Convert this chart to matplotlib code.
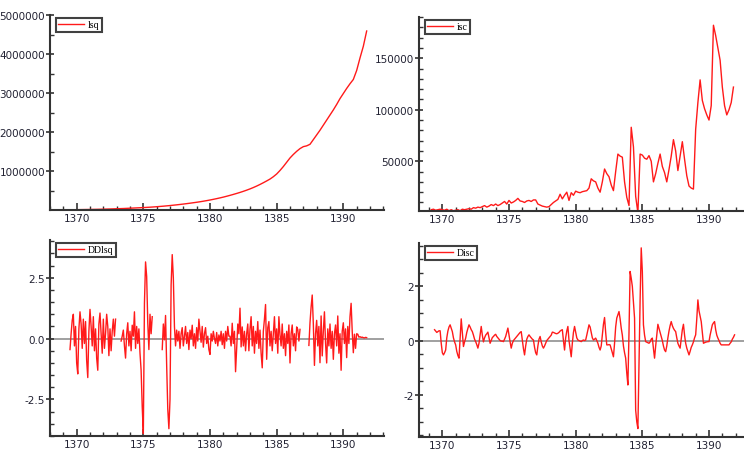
import numpy as np
import matplotlib.pyplot as plt
from matplotlib.ticker import MultipleLocator

# lsq: quarterly, starting 1369 Q1
lsq_start = 1369.0
lsq = [12000, 13000, 14000, 15000, 16000, 17500, 19000, 20500,
       22000, 23500, 25000, 27000, 29000, 31500, 34000, 37000,
       40000, 43000, 46000, 50000, 54000, 58000, 62000, 66000,
       70000, 75000, 80000, 86000, 92000, 99000, 106000, 114000,
       122000, 131000, 140000, 150000, 160000, 171000, 182000, 194000,
       206000, 219000, 233000, 248000, 264000, 281000, 299000, 318000,
       338000, 360000, 383000, 407000, 432000, 458000, 486000, 516000,
       548000, 583000, 621000, 662000, 706000, 752000, 800000, 860000,
       930000, 1020000, 1120000, 1230000, 1340000, 1430000, 1510000, 1580000,
       1630000, 1650000, 1690000, 1810000, 1930000, 2050000, 2180000, 2310000,
       2440000, 2570000, 2710000, 2860000, 2990000, 3120000, 3240000, 3350000,
       3580000, 3900000, 4200000, 4590000]

# isc: two-monthly, starting 1369 + 1/6
isc_start = 1369 + 1 / 6
isc = [3000, 3500, 2500, 3000, 3500,
       3000, 2500, 3500, 2000, 3000, 2000,
       2500, 3000, 2000, 3500, 3000, 3500,
       4000, 3500, 5000, 4500, 5500, 5000,
       6000, 7000, 5500, 6500, 8000, 7000,
       8500, 7000, 8000, 9500, 11000, 8500,
       12000, 9500, 10500, 12000, 14000, 11500,
       11000, 10000, 11500, 12000, 11000, 12500,
       12500, 8500, 7500, 6500, 6000, 5500,
       6000, 8000, 10000, 11500, 13000, 18000,
       13500, 17000, 20000, 12000, 19500, 17000,
       21000, 20000, 19500, 20500, 21000, 21500,
       24000, 33000, 31000, 30000, 24000, 20000,
       30000, 42500, 38000, 35000, 27000, 21500,
       40000, 57000, 55000, 54000, 30000, 15000,
       7000, 83000, 64000, 16000, 0, 57000,
       56000, 53000, 52000, 55500, 50000, 30000,
       38000, 48000, 57000, 45000, 39000, 30000,
       42000, 55000, 71000, 60000, 41000, 55000,
       69000, 52000, 36000, 26000, 24000, 23000,
       81000, 107000, 129000, 109000, 101000, 95000,
       90000, 104000, 182000, 172000, 160000, 148000,
       122000, 104000, 95000, 100000, 107000, 122000]

# DDlsq: monthly, four pieces separated by missing values
ddlsq_starts = [1369 + 6 / 12, 1369 + 52 / 12, 1369 + 89 / 12, 1369 + 221 / 12]
ddlsq_1 = [-0.45, 0.2, 0.75, 1.0, -0.3, 0.5, -1.0, -1.45, 0.4, 1.1, 0.6, -0.4,
           0.8, -0.2, 0.7, -0.9, -1.6, 0.3, 1.2, 0.5, -0.3, 0.9, -0.5, 0.4,
           -0.8, -1.3, 0.6, 1.05, 0.2, -0.6, 0.8, -0.4, 0.2, 1.0, 0.5, -0.7,
           0.4, -0.5, 0.3, 0.8, 0.1, 0.8]
ddlsq_2 = [-0.1, 0.1, 0.35, -0.3, -0.8, 0.2, 0.65, -0.3, 0.3, -0.5, 0.55, 0.1,
           1.1, -0.4, 0.5, -0.2, 0.4, -0.6, -1.3, -2.8, -3.9, 1.45, 3.15, 2.55,
           0.65, -0.45, 1.0, 0.2, 0.9]
ddlsq_3 = [-0.45, 0.6, -0.05, 0.95, -1.1, -2.9, -3.7, -2.5, 2.2, 3.45, 2.5, 0.5,
           -0.3, 0.35, -0.1, 0.3, -0.4, 0.2, 0.45, -0.3, 0.1, 0.5, -0.2, 0.25,
           -0.45, 0.35, 0.0, 0.55, -0.3, 0.2, -0.4, 0.45, -0.1, 0.8, 0.3, -0.15,
           0.5, -0.35, 0.2, 0.45, -0.2, 0.1, -0.45, -0.65, 0.2, -0.1, 0.3, 0.0,
           -0.2, 0.25, -0.3, 0.15, -0.1, 0.3, -0.25, 0.2, -0.4, 0.3, -0.1, 0.5,
           0.1, 0.1, -0.3, 0.63, -0.2, 0.3, -1.36, -0.4, 0.6, 0.2, 1.25, -0.34,
           0.48, -0.3, 0.3, -0.5, 0.2, 0.6, -0.5, 0.4, 0.9, -0.3, 0.5, -0.6,
           0.3, -0.2, 0.7, -0.4, 0.35, -0.6, -1.2, 0.3, 0.8, 1.4, -0.85, 0.45,
           0.7, -0.3, 0.3, -0.5, 0.2, 0.9, -0.2, 0.4, -0.6, 0.9, 0.15, -0.3,
           0.6, -0.4, 0.2, -0.7, 0.3, -0.2, 0.56, -1.0, 0.2, 0.56, -0.3, 0.2,
           -0.5, 0.48, 0.38, -0.1, 0.38]
ddlsq_4 = [-0.28, 0.65, 1.3, 1.79, 0.6, -1.1, 0.2, 0.75, -0.3, 0.5, -0.99, 0.93,
           -0.71, 0.3, 1.1, -0.2, -1.0, 0.4, -0.3, 0.6, -0.4, 0.3, -0.85, 0.2,
           0.56, -0.3, 0.93, -0.6, 0.2, -1.3, 0.3, 0.65, -0.2, 0.4, -0.78, 0.5,
           -0.2, 0.9, 1.45, 0.3, -0.58, 0.18, -0.4, 0.2, 0.18, 0.06, 0.08, 0.05,
           0.06, 0.04, 0.03, 0.05, 0.04]

# Disc: monthly, starting 1369 + 5/12
disc_start = 1369 + 5 / 12
disc = [0.4, 0.35, 0.3, 0.33, 0.36, 0.36, -0.1,
        -0.45, -0.53, -0.45, -0.35, 0.1, 0.35, 0.5, 0.58, 0.45, 0.33, 0.1, -0.05,
        -0.16, -0.4, -0.55, -0.65, 0.1, 0.8, 0.3, -0.22, -0.05, 0.09, 0.3, 0.45,
        0.58, 0.5, 0.4, 0.33, 0.2, 0.05, -0.04, -0.15, -0.28, -0.1, 0.2, 0.52,
        0.2, -0.05, 0.1, 0.2, 0.25, 0.31, 0.1, -0.1, 0.0, 0.11, 0.15, 0.2,
        0.23, 0.15, 0.1, 0.05, 0.0, -0.02, -0.02, -0.04, 0.05, 0.15, 0.3, 0.46,
        0.2, -0.05, -0.28, -0.1, 0.0, 0.05, 0.1, 0.15, 0.2, 0.25, 0.3, 0.33,
        0.0, -0.3, -0.53, -0.2, 0.05, 0.15, 0.21, 0.15, 0.1, 0.05, 0.02, -0.25,
        -0.45, -0.53, -0.2, 0.05, 0.15, -0.05, -0.2, -0.28, -0.2, -0.1, 0.0, 0.05,
        0.1, 0.15, 0.2, 0.31, 0.3, 0.28, 0.26, 0.25, 0.27, 0.3, 0.35, 0.38,
        0.4, 0.0, -0.35, 0.1, 0.35, 0.52, 0.0, -0.3, -0.6, -0.1, 0.3, 0.52,
        0.3, 0.1, 0.02, 0.0, -0.02, -0.04, 0.0, 0.02, 0.0, 0.02, 0.2, 0.4,
        0.58, 0.5, 0.3, 0.1, 0.02, 0.05, 0.09, 0.0, -0.1, -0.25, -0.35, -0.2,
        0.2, 0.6, 0.85, 0.3, -0.16, -0.16, -0.15, -0.16, -0.3, -0.45, -0.6, -0.1,
        0.5, 0.83, 0.95, 1.07, 0.8, 0.46, 0.2, -0.2, -0.45, -0.65, -1.2, -1.64,
        0.3, 2.55, 2.3, 2.0, 1.4, 0.83, -2.57, -3.0, -3.25, -0.9, 1.5, 3.42,
        2.55, 0.58, 0.2, -0.04, -0.06, -0.08, -0.1, -0.05, 0.05, 0.09, -0.3, -0.65,
        -0.2, 0.2, 0.6, 0.45, 0.3, 0.15, 0.0, -0.2, -0.35, -0.41, -0.2, 0.1,
        0.35, 0.55, 0.7, 0.55, 0.45, 0.38, 0.33, 0.1, -0.1, -0.2, -0.28, 0.05,
        0.4, 0.6, 0.2, -0.1, -0.28, -0.4, -0.53, -0.4, -0.25, -0.16, -0.05, 0.1,
        0.21, 0.8, 1.5, 1.1, 0.9, 0.7, 0.3, -0.1, -0.08, -0.06, -0.05, -0.04,
        -0.04, 0.2, 0.4, 0.58, 0.65, 0.7, 0.4, 0.2, 0.09, 0.0, -0.1, -0.16,
        -0.16, -0.16, -0.16, -0.16, -0.16, -0.16, -0.16, -0.1, -0.05, 0.05, 0.12, 0.21]

W, H = 744, 452
RED = '#ff1a1a'
INK = '#333333'

plt.rcParams['font.family'] = 'DejaVu Sans'
fig = plt.figure(figsize=(W / 100, H / 100), dpi=100)


def make_axes(left, right, top, bottom):
    return fig.add_axes([left / W, 1 - bottom / H, (right - left) / W, (bottom - top) / H])


def times(start, values, step):
    return start + np.arange(len(values)) * step


def style(ax, line, ylim, yticks, ylabels, yminor, xlim, name):
    ax.set_xlim(*xlim)
    ax.set_ylim(*ylim)
    for s in ['top', 'right']:
        ax.spines[s].set_visible(False)
    for s in ['left', 'bottom']:
        ax.spines[s].set_linewidth(1.5)
        ax.spines[s].set_color(INK)
    ax.set_xticks([1370, 1375, 1380, 1385, 1390])
    ax.set_xticklabels(['1370', '1375', '1380', '1385', '1390'])
    ax.xaxis.set_minor_locator(MultipleLocator(1))
    ax.set_yticks(yticks)
    ax.set_yticklabels(ylabels)
    ax.yaxis.set_minor_locator(MultipleLocator(yminor))
    ax.tick_params(axis='x', which='major', direction='in', length=5, width=1.2,
                   color=INK, labelsize=7.5, labelcolor='#222233', pad=2)
    ax.tick_params(axis='x', which='minor', direction='in', length=3, width=1.0, color=INK)
    ax.tick_params(axis='y', which='major', direction='inout', length=6, width=1.2,
                   color=INK, labelsize=7.5, labelcolor='#222233', pad=0.5)
    ax.tick_params(axis='y', which='minor', direction='in', length=3, width=1.0, color=INK)
    ax.patch.set_alpha(0)
    leg = ax.legend([line], [name], loc='upper left', frameon=True, fancybox=False,
                    bbox_to_anchor=(0.018, 0.985), borderaxespad=0,
                    prop={'family': 'Liberation Serif', 'size': 7},
                    handlelength=2.6, handletextpad=0.4, borderpad=0.25)
    leg.get_frame().set_edgecolor('#111111')
    leg.get_frame().set_linewidth(1.5)


xlim_left = (1368.0, 1393.05)
xlim_right = (1368.25, 1393.0)

# top-left: lsq
ax1 = make_axes(50, 384, 16, 211)
l1, = ax1.plot(times(lsq_start, lsq, 0.25), lsq, color=RED, lw=1.0)
style(ax1, l1, (8000, 5000000), [1000000, 2000000, 3000000, 4000000, 5000000],
      ['1000000', '2000000', '3000000', '4000000', '5000000'], 500000,
      xlim_left, 'lsq')

# top-right: isc
ax2 = make_axes(419, 749, 18, 212)
l2, = ax2.plot(times(isc_start, isc, 1 / 6), isc, color=RED, lw=1.0)
style(ax2, l2, (1750, 190000), [50000, 100000, 150000], ['50000', '100000', '150000'],
      10000, xlim_right, 'isc')

# bottom-left: DDlsq
ax3 = make_axes(50, 384, 241, 437)
ax3.axhline(0, color='#999999', lw=1.3, zorder=1)
l3 = None
for st, seg in zip(ddlsq_starts, [ddlsq_1, ddlsq_2, ddlsq_3, ddlsq_4]):
    ln, = ax3.plot(times(st, seg, 1 / 12), seg, color=RED, lw=1.0, zorder=2)
    l3 = l3 or ln
style(ax3, l3, (-4.0, 4.05), [-2.5, 0.0, 2.5], ['-2.5', '0.0', '2.5'], 0.5,
      xlim_left, 'DDlsq')

# bottom-right: Disc
ax4 = make_axes(419, 749, 244, 438)
ax4.axhline(0, color='#999999', lw=1.3, zorder=1)
l4, = ax4.plot(times(disc_start, disc, 1 / 12), disc, color=RED, lw=1.0, zorder=2)
style(ax4, l4, (-3.56, 3.6), [-2, 0, 2], ['-2', '0', '2'], 0.5,
      xlim_right, 'Disc')

fig.savefig('out.png', dpi=100)
